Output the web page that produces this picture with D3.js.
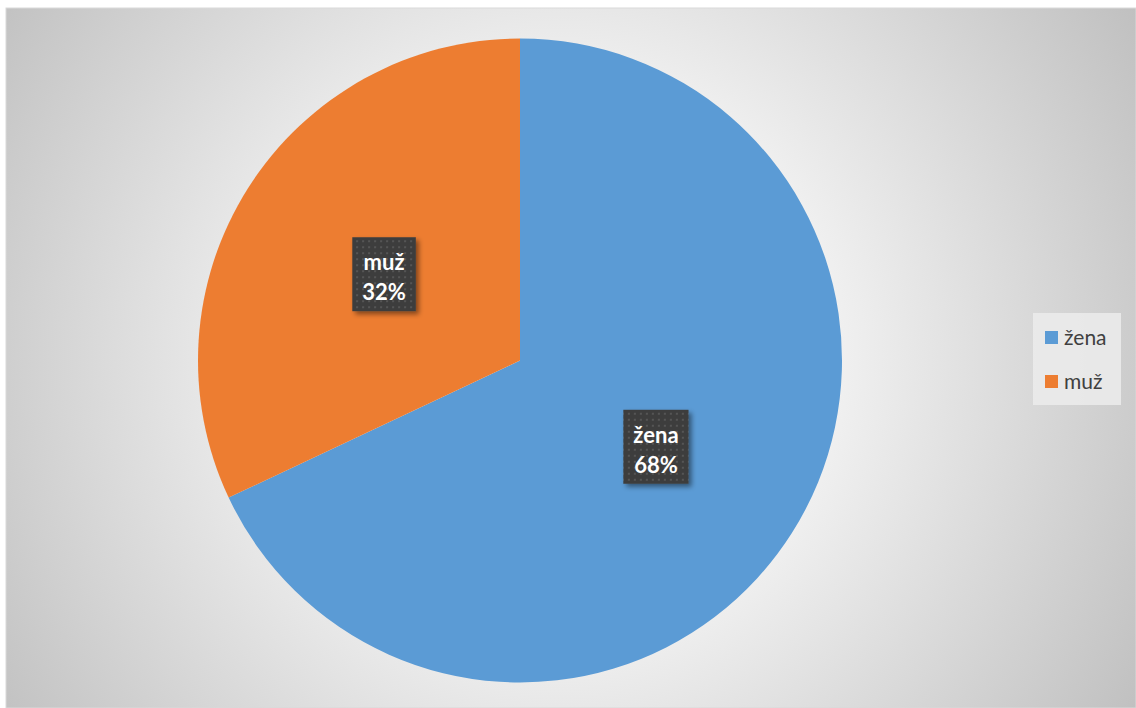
<!DOCTYPE html>
<html>
<head>
<meta charset="utf-8">
<script src="https://cdn.jsdelivr.net/npm/d3@7"></script>
<style>
  html, body { margin: 0; padding: 0; background: #ffffff; }
  svg { display: block; }
</style>
</head>
<body>
<svg id="chart" width="1136" height="708"></svg>
<script>
// Gender split of respondents
const categories = ["žena", "muž"];
const shares = [68, 32];
const colors = ["#5b9bd5", "#ed7d31"];

const W = 1136, H = 708;
const svg = d3.select("#chart");
const defs = svg.append("defs");

// Chart area background: soft radial gradient, white centre fading to grey
const grad = defs.append("radialGradient")
  .attr("id", "bg")
  .attr("gradientUnits", "userSpaceOnUse")
  .attr("cx", 560).attr("cy", 360).attr("r", 700)
  .attr("fx", 560).attr("fy", 360);
grad.append("stop").attr("offset", "0%").attr("stop-color", "#ffffff");
grad.append("stop").attr("offset", "40%").attr("stop-color", "#f0f0f0");
grad.append("stop").attr("offset", "100%").attr("stop-color", "#bdbdbd");

// Dotted texture used behind data labels
const pat = defs.append("pattern")
  .attr("id", "dots")
  .attr("patternUnits", "userSpaceOnUse")
  .attr("width", 6).attr("height", 6);
pat.append("rect").attr("width", 6).attr("height", 6).attr("fill", "#3e3e3e");
pat.append("rect").attr("x", 2).attr("y", 2).attr("width", 2).attr("height", 2).attr("fill", "#545454");

const shadow = defs.append("filter")
  .attr("id", "shadow")
  .attr("x", "-30%").attr("y", "-30%").attr("width", "160%").attr("height", "160%");
shadow.append("feDropShadow")
  .attr("dx", 3).attr("dy", 3).attr("stdDeviation", 2.5)
  .attr("flood-color", "#000").attr("flood-opacity", 0.45);

svg.append("rect")
  .attr("x", 6).attr("y", 8)
  .attr("width", W - 6).attr("height", H - 8)
  .attr("fill", "url(#bg)")
  .attr("stroke", "#d9d9d9").attr("stroke-width", 1);

// Pie
const cx = 520, cy = 360.5, radius = 322;
const pie = d3.pie().sort(null).value(d => d.value);
const arcs = pie(categories.map((c, i) => ({ name: c, value: shares[i], color: colors[i] })));
const arc = d3.arc().innerRadius(0).outerRadius(radius);
const labelArc = d3.arc().innerRadius(0).outerRadius(radius);

const g = svg.append("g").attr("transform", `translate(${cx},${cy})`);
g.selectAll("path.slice")
  .data(arcs)
  .join("path")
  .attr("class", "slice")
  .attr("d", arc)
  .attr("fill", d => d.data.color);

// Data labels: category name and percentage in a dark textured box
const total = d3.sum(shares);
const fmt = d => Math.round(d.data.value / total * 100) + "%";
const labels = g.selectAll("g.label")
  .data(arcs)
  .join("g")
  .attr("class", "label")
  .attr("transform", d => {
    const [x, y] = labelArc.centroid(d);
    return `translate(${x},${y})`;
  });

labels.each(function(d) {
  const sel = d3.select(this);
  const t1 = sel.append("text")
    .attr("text-anchor", "middle")
    .attr("y", -4)
    .attr("font-family", "Lato, 'Open Sans', sans-serif")
    .attr("font-weight", "bold")
    .attr("font-size", 22)
    .attr("fill", "#ffffff")
    .text(d.data.name);
  const t2 = sel.append("text")
    .attr("text-anchor", "middle")
    .attr("y", 26)
    .attr("font-family", "Lato, 'Open Sans', sans-serif")
    .attr("font-weight", "bold")
    .attr("font-size", 22)
    .attr("fill", "#ffffff")
    .text(fmt(d));
  const w = Math.max(t1.node().getComputedTextLength(), t2.node().getComputedTextLength()) + 20;
  sel.insert("rect", "text")
    .attr("x", -w / 2).attr("y", -37)
    .attr("width", w).attr("height", 74)
    .attr("fill", "url(#dots)")
    .attr("filter", "url(#shadow)");
});

// Legend
const legend = svg.append("g").attr("transform", "translate(1033,313)");
legend.append("rect")
  .attr("width", 88).attr("height", 92)
  .attr("fill", "#ececec").attr("fill-opacity", 0.85);
const items = legend.selectAll("g.item")
  .data(categories)
  .join("g")
  .attr("class", "item")
  .attr("transform", (d, i) => `translate(12,${18 + i * 44})`);
items.append("rect")
  .attr("width", 13).attr("height", 13)
  .attr("fill", (d, i) => colors[i]);
items.append("text")
  .attr("x", 19).attr("y", 14)
  .attr("font-family", "Lato, 'Open Sans', sans-serif")
  .attr("font-size", 21)
  .attr("fill", "#404040")
  .text(d => d);
</script>
</body>
</html>
